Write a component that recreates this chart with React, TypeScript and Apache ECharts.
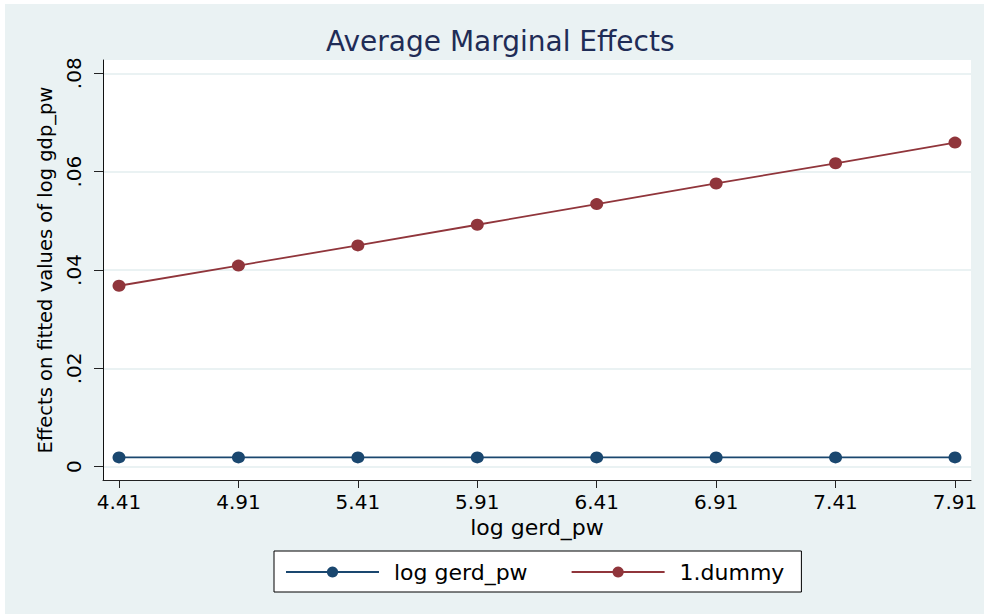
import React, { useEffect, useRef } from "react";
import * as echarts from "echarts";

const xTickLabels = ["4.41", "4.91", "5.41", "5.91", "6.41", "6.91", "7.41", "7.91"];
const yTickValues = [0, 0.02, 0.04, 0.06, 0.08];
const seriesNames = ["log gerd_pw", "1.dummy"];
const logGerdValues = [0.0019, 0.0019, 0.0019, 0.0019, 0.0019, 0.0019, 0.0019, 0.0019];
const dummyValues = [0.0368, 0.0409, 0.045, 0.0492, 0.0534, 0.0576, 0.0617, 0.0659];
const seriesColors = ["#1a476f", "#90353b"];

const FONT = "DejaVu Sans";

export default function App() {
  const ref = useRef<HTMLDivElement>(null);
  useEffect(() => {
    if (!ref.current) return;
    const chart = echarts.init(ref.current, undefined, { renderer: "svg" });
    const xValues = xTickLabels.map(Number);
    const mk = (vals: number[]) => xValues.map((x, i) => [x, vals[i]]);
    chart.setOption({
      animation: false,
      backgroundColor: "#EAF2F3",
      title: {
        text: "Average Marginal Effects",
        left: 321,
        top: 23,
        padding: 0,
        textStyle: { fontFamily: FONT, fontSize: 28, fontWeight: "normal", color: "#1f2c56" },
      },
      grid: {
        left: 98,
        top: 56,
        right: 13,
        bottom: 134,
        show: true,
        backgroundColor: "#ffffff",
        borderWidth: 0,
      },
      legend: {
        data: seriesNames,
        left: 269,
        top: 547,
        orient: "horizontal",
        backgroundColor: "#ffffff",
        borderColor: "#000000",
        borderWidth: 1,
        borderRadius: 0,
        padding: [10, 17, 9, 11],
        itemWidth: 93,
        itemHeight: 14,
        itemGap: 43,
        textStyle: { fontFamily: FONT, fontSize: 22, color: "#000", padding: [0, 0, 0, 10] },
      },
      xAxis: {
        type: "value",
        min: 4.343,
        max: 7.977,
        name: "log gerd_pw",
        nameLocation: "middle",
        nameGap: 33,
        nameTextStyle: { fontFamily: FONT, fontSize: 22, color: "#000" },
        axisLine: { show: true, onZero: false, lineStyle: { color: "#222", width: 1 } },
        axisTick: { show: true, length: 8, customValues: xValues, lineStyle: { color: "#222", width: 1 } },
        axisLabel: {
          customValues: xValues,
          margin: 12,
          fontFamily: FONT,
          fontSize: 20,
          color: "#000",
          formatter: (v: number) => v.toFixed(2),
        },
        splitLine: { show: false },
      },
      yAxis: {
        type: "value",
        min: -0.0027,
        max: 0.0827,
        name: "Effects on fitted values of log gdp_pw",
        nameLocation: "middle",
        nameRotate: 90,
        nameGap: 48,
        nameTextStyle: { fontFamily: FONT, fontSize: 19.5, color: "#000" },
        axisLine: { show: true, onZero: false, lineStyle: { color: "#111", width: 1 } },
        axisTick: { show: true, length: 9, customValues: yTickValues, lineStyle: { color: "#222", width: 1 } },
        axisLabel: {
          customValues: yTickValues,
          rotate: 90,
          margin: 19,
          fontFamily: FONT,
          fontSize: 20,
          color: "#000",
          formatter: (v: number) => (v === 0 ? "0" : v.toFixed(2).replace(/^0/, "")),
        },
        splitLine: { show: true, lineStyle: { color: "#EAF2F3", width: 2 } },
      },
      series: [
        {
          name: seriesNames[0],
          type: "line",
          data: mk(logGerdValues),
          symbol: "circle",
          symbolSize: [13, 12],
          color: seriesColors[0],
          lineStyle: { color: seriesColors[0], width: 1.8 },
          itemStyle: { color: seriesColors[0] },
        },
        {
          name: seriesNames[1],
          type: "line",
          data: mk(dummyValues),
          symbol: "circle",
          symbolSize: [13, 12],
          color: seriesColors[1],
          lineStyle: { color: seriesColors[1], width: 1.8 },
          itemStyle: { color: seriesColors[1] },
        },
      ],
    });
    return () => chart.dispose();
  }, []);
  return (
    <div style={{ position: "fixed", left: 0, top: 0, width: 984, height: 614, background: "#ffffff" }}>
      <div ref={ref} style={{ position: "absolute", left: 5, top: 4, width: 979, height: 610 }} />
    </div>
  );
}
